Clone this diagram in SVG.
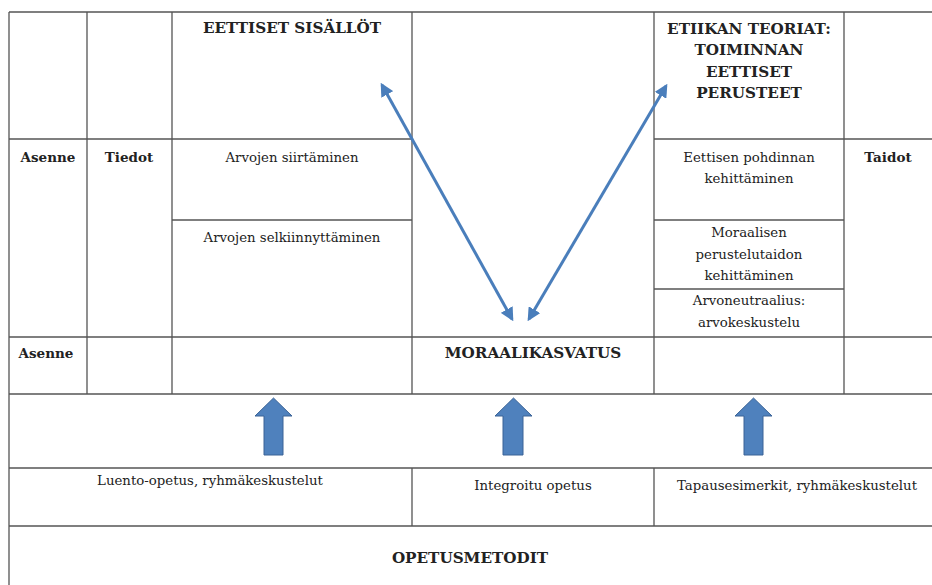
<svg xmlns="http://www.w3.org/2000/svg" width="932" height="585" viewBox="0 0 932 585">
<style>
.ln{stroke:#555;stroke-width:1.3;fill:none}
text{font-family:"DejaVu Serif","Liberation Serif",serif;fill:#222;text-anchor:middle}
.b{font-weight:bold;font-size:13.5px}
.bc{font-weight:bold;font-size:15.2px}
.r{font-size:13.3px}
.conn{stroke:#4a7ebb;stroke-width:3;fill:none}
.blk{fill:#4f81bd;stroke:#3a6396;stroke-width:1}
</style>
<defs>
<marker id="ah" viewBox="0 0 10 10" refX="8" refY="5" markerWidth="4.5" markerHeight="4.5" orient="auto-start-reverse" markerUnits="strokeWidth">
<path d="M0,0 L10,5 L0,10 z" fill="#4a7ebb"/>
</marker>
</defs>
<rect width="932" height="585" fill="#fff"/>
<g id="grid">
<path class="ln" d="M9,12 H932 M9,139 H412 M654,139 H932 M172,220 H412 M654,220 H844 M654,289 H844 M9,337 H932 M9,394 H932 M9,468 H932 M9,526 H932"/>
<path class="ln" d="M9,12 V585 M87,12 V394 M172,12 V394 M412,12 V394 M654,12 V394 M844,12 V394 M412,468 V526 M654,468 V526"/>
</g>
<g id="eettiset-sisallot"><text class="bc" x="292" y="33">EETTISET SISÄLLÖT</text></g>
<g id="etiikan-teoriat"><text class="bc" x="749" y="34">ETIIKAN TEORIAT:</text><text class="bc" x="749" y="55">TOIMINNAN</text><text class="bc" x="749" y="77">EETTISET</text><text class="bc" x="749" y="98">PERUSTEET</text></g>
<g id="asenne1"><text class="b" x="48" y="162">Asenne</text></g>
<g id="tiedot"><text class="b" x="129" y="162">Tiedot</text></g>
<g id="arvojen-siirtaminen"><text class="r" x="292" y="162">Arvojen siirtäminen</text></g>
<g id="arvojen-selkiinnyttaminen"><text class="r" x="292" y="242">Arvojen selkiinnyttäminen</text></g>
<g id="eettisen-pohdinnan"><text class="r" x="749" y="162">Eettisen pohdinnan</text><text class="r" x="749" y="183">kehittäminen</text></g>
<g id="taidot"><text class="b" x="888" y="162">Taidot</text></g>
<g id="moraalisen"><text class="r" x="749" y="237">Moraalisen</text><text class="r" x="749" y="259">perustelutaidon</text><text class="r" x="749" y="280">kehittäminen</text></g>
<g id="arvoneutraalius"><text class="r" x="749" y="305">Arvoneutraalius:</text><text class="r" x="749" y="327">arvokeskustelu</text></g>
<g id="asenne2"><text class="b" x="46" y="358">Asenne</text></g>
<g id="moraalikasvatus"><text class="bc" x="533" y="358">MORAALIKASVATUS</text></g>
<g id="luento"><text class="r" x="210" y="485">Luento-opetus, ryhmäkeskustelut</text></g>
<g id="integroitu"><text class="r" x="533" y="490">Integroitu opetus</text></g>
<g id="tapaus"><text class="r" x="797" y="490">Tapausesimerkit, ryhmäkeskustelut</text></g>
<g id="opetusmetodit"><text class="bc" x="470" y="563">OPETUSMETODIT</text></g>
<g id="connectors">
<line class="conn" x1="512" y1="319" x2="382" y2="85" marker-start="url(#ah)" marker-end="url(#ah)"/>
<line class="conn" x1="529" y1="319" x2="666" y2="86" marker-start="url(#ah)" marker-end="url(#ah)"/>
<path class="blk" d="M264,455 V416 H255 L273.5,398 L292,416 H283 V455 Z"/>
<path class="blk" d="M503,455 V416 H495 L513.5,398 L532,416 H523 V455 Z"/>
<path class="blk" d="M744,455 V416 H735 L753.5,398 L772,416 H763 V455 Z"/>
</g>
</svg>
